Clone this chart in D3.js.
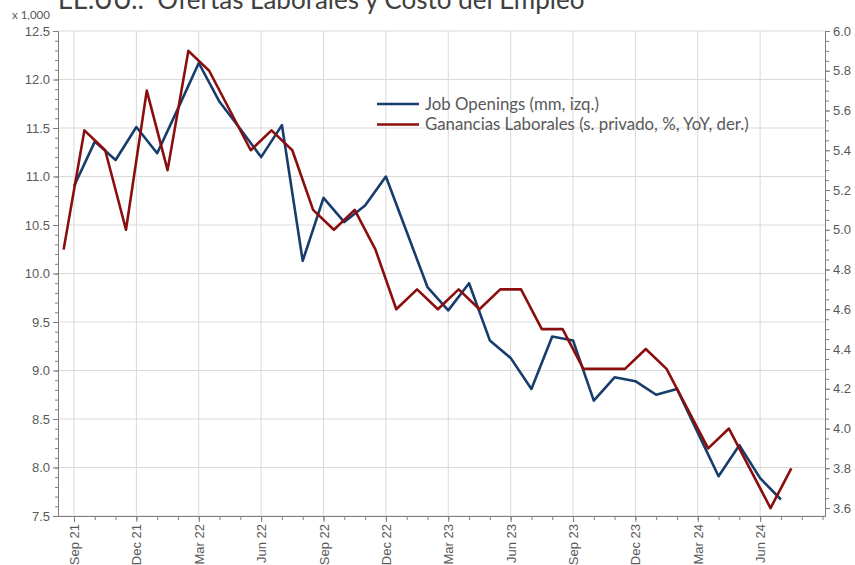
<!DOCTYPE html>
<html>
<head>
<meta charset="utf-8">
<script src="https://cdn.jsdelivr.net/npm/d3@7"></script>
<style>
  body { margin: 0; background: #fff; }
  svg { display: block; font-family: Lato, "Open Sans", sans-serif; }
</style>
</head>
<body>
<svg id="chart" width="855" height="565"></svg>
<script>
// EE.UU.: job openings vs. wage growth, monthly from Sep 21

// month index 0 = Sep 21
var tickLabels = ["Sep 21", "Dec 21", "Mar 22", "Jun 22", "Sep 22", "Dec 22",
                  "Mar 23", "Jun 23", "Sep 23", "Dec 23", "Mar 24", "Jun 24"];
var tickMonths = [0, 3, 6, 9, 12, 15, 18, 21, 24, 27, 30, 33];

// Job Openings (millions), Sep 21 .. Jul 24
var jobOpenings = [10.90, 11.36, 11.17, 11.51, 11.24, 11.70, 12.17, 11.77, 11.49, 11.20,
                   11.53, 10.13, 10.78, 10.53, 10.70, 11.00, 10.43, 9.86, 9.62, 9.90,
                   9.31, 9.13, 8.81, 9.35, 9.31, 8.69, 8.93, 8.89, 8.75, 8.81,
                   8.36, 7.91, 8.23, 7.89, 7.67];

// Ganancias laborales (% YoY), Sep 21 .. Aug 24 (plotted half a month earlier)
var wages = [4.9, 5.5, 5.4, 5.0, 5.7, 5.3, 5.9, 5.8, 5.6, 5.4,
             5.5, 5.4, 5.1, 5.0, 5.1, 4.9, 4.6, 4.7, 4.6, 4.7,
             4.6, 4.7, 4.7, 4.5, 4.5, 4.3, 4.3, 4.3, 4.4, 4.3,
             4.1, 3.9, 4.0, 3.8, 3.6, 3.8];

var leftTicks = [7.5, 8.0, 8.5, 9.0, 9.5, 10.0, 10.5, 11.0, 11.5, 12.0, 12.5];
var rightTicks = [3.6, 3.8, 4.0, 4.2, 4.4, 4.6, 4.8, 5.0, 5.2, 5.4, 5.6, 5.8, 6.0];

var blue = "#163d6b";
var red = "#8b0e0e";
var axisColor = "#7f7f7f";
var textColor = "#595959";
var gridColor = "#d9d9d9";

var plotLeft = 58, plotRight = 825, plotTop = 31, plotBottom = 516;

var svg = d3.select("#chart");

var x = d3.scaleLinear().domain([-0.77, 36.12]).range([plotLeft, plotRight]);
var yL = d3.scaleLinear().domain([7.5, 12.5]).range([plotBottom, plotTop]);
var yR = d3.scaleLinear().domain([3.56, 6.0]).range([plotBottom, plotTop]);

// gridlines
svg.append("g").selectAll("line")
    .data(leftTicks)
    .join("line")
    .attr("x1", plotLeft).attr("x2", plotRight)
    .attr("y1", d => yL(d)).attr("y2", d => yL(d))
    .attr("stroke", gridColor).attr("stroke-width", 1);

svg.append("g").selectAll("line")
    .data(tickMonths)
    .join("line")
    .attr("x1", d => x(d)).attr("x2", d => x(d))
    .attr("y1", plotTop).attr("y2", plotBottom)
    .attr("stroke", gridColor).attr("stroke-width", 1);

// minor ticks
var minorLeft = d3.range(75, 126).map(d => d / 10);
var minorRight = d3.range(72, 121).map(d => d / 20);
var minorMonths = d3.range(0, 37);

function styleAxis(g) {
    g.selectAll(".domain").attr("stroke", axisColor);
    g.selectAll(".tick line").attr("stroke", axisColor);
    g.selectAll(".tick text").attr("fill", textColor).attr("font-size", "13px");
}

svg.append("g")
    .attr("transform", "translate(" + plotLeft + ",0)")
    .call(d3.axisLeft(yL).tickValues(minorLeft).tickSize(3).tickSizeOuter(0).tickFormat(""))
    .call(styleAxis);
svg.append("g")
    .attr("transform", "translate(" + plotLeft + ",0)")
    .call(d3.axisLeft(yL).tickValues(leftTicks).tickSize(5).tickSizeOuter(0).tickFormat(d3.format(".1f")))
    .call(styleAxis);

svg.append("g")
    .attr("transform", "translate(" + plotRight + ",0)")
    .call(d3.axisRight(yR).tickValues(minorRight).tickSize(4).tickSizeOuter(0).tickFormat(""))
    .call(styleAxis);
svg.append("g")
    .attr("transform", "translate(" + plotRight + ",0)")
    .call(d3.axisRight(yR).tickValues(rightTicks).tickSize(5).tickSizeOuter(0).tickFormat(d3.format(".1f")))
    .call(styleAxis);

svg.append("g")
    .attr("transform", "translate(0," + plotBottom + ")")
    .call(d3.axisBottom(x).tickValues(minorMonths).tickSize(4).tickSizeOuter(0).tickFormat(""))
    .call(styleAxis);
var xAxis = svg.append("g")
    .attr("transform", "translate(0," + plotBottom + ")")
    .call(d3.axisBottom(x).tickValues(tickMonths).tickSize(6).tickSizeOuter(0)
        .tickFormat((d, i) => tickLabels[i]))
    .call(styleAxis);
xAxis.selectAll(".tick text")
    .attr("transform", "rotate(-90)")
    .attr("text-anchor", "end")
    .attr("x", -8)
    .attr("y", 0)
    .attr("dy", "0.35em");

// lines
var jobLine = d3.line()
    .x((d, i) => x(i))
    .y(d => yL(d));
var wageLine = d3.line()
    .x((d, i) => x(i - 0.5))
    .y(d => yR(d));

svg.append("path")
    .datum(jobOpenings)
    .attr("d", jobLine)
    .attr("fill", "none")
    .attr("stroke", blue)
    .attr("stroke-width", 2.6)
    .attr("stroke-linejoin", "round");

svg.append("path")
    .datum(wages)
    .attr("d", wageLine)
    .attr("fill", "none")
    .attr("stroke", red)
    .attr("stroke-width", 2.6)
    .attr("stroke-linejoin", "round");

// legend
var legendItems = [
    { label: "Job Openings (mm, izq.)", color: blue },
    { label: "Ganancias Laborales (s. privado, %, YoY, der.)", color: red }
];
var legend = svg.append("g").attr("transform", "translate(377,104)");
legendItems.forEach(function(item, i) {
    legend.append("line")
        .attr("x1", 0).attr("x2", 42)
        .attr("y1", i * 20.5).attr("y2", i * 20.5)
        .attr("stroke", item.color).attr("stroke-width", 2.6);
    legend.append("text")
        .attr("x", 48).attr("y", i * 20.5)
        .attr("dy", "0.35em")
        .attr("font-size", "16.8px")
        .attr("fill", textColor)
        .text(item.label);
});

// title (top is cut off in the original), two spaces after the colon
svg.append("text")
    .attr("x", 58).attr("y", 9)
    .attr("font-size", "26px")
    .attr("fill", "#404040")
    .text("EE.UU.:\u00A0\u00A0Ofertas Laborales y Costo del Empleo");

svg.append("text")
    .attr("x", 12).attr("y", 19)
    .attr("font-size", "11.5px")
    .attr("fill", textColor)
    .text("x 1,000");
</script>
</body>
</html>
